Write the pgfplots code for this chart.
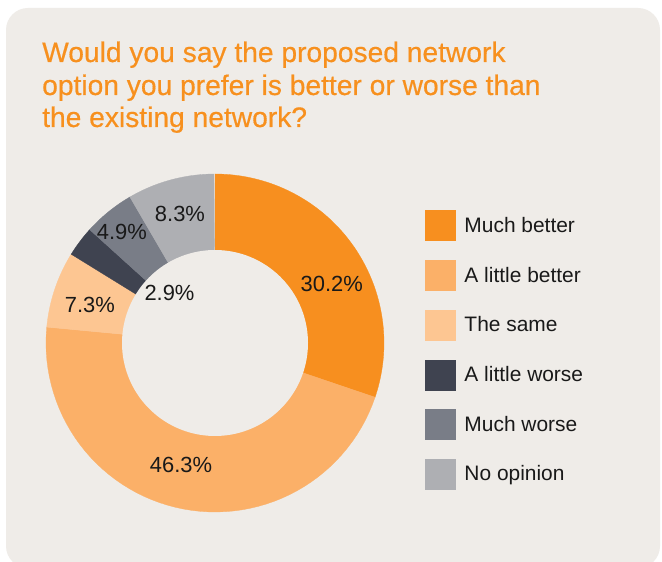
\documentclass[border=0pt]{standalone}
\usepackage{fontspec}
\setmainfont{Liberation Sans}
\newfontfamily\titlefont{Liberation Sans}[UprightFeatures={FakeBold=0.5}]
\usepackage{pgfplots}
\usepackage{pgfplotstable}
\pgfplotsset{compat=1.18}

\definecolor{panel}{HTML}{EFECE8}
\definecolor{titleorange}{HTML}{F7901E}
\definecolor{c0}{HTML}{F78F1F}
\definecolor{c1}{HTML}{FBB068}
\definecolor{c2}{HTML}{FDC692}
\definecolor{c3}{HTML}{3F4350}
\definecolor{c4}{HTML}{797D87}
\definecolor{c5}{HTML}{AEAFB3}

% share in percent, label angle (deg) and label radius (bp)
\pgfplotstableread{
value lang lrad
30.2 27 131
46.3 254.4 126.6
7.3 162.9 131
2.9 132 68
4.9 130 144.8
8.3 105.2 133.7
}\slices

\tikzset{lab/.style={font=\fontsize{22}{26}\selectfont, text=black!90, anchor=center, inner sep=0pt}}

\begin{document}
\begin{tikzpicture}[x=1bp,y=1bp]
\useasboundingbox (0,0) rectangle (662,562);
\fill[white] (0,0) rectangle (662,562);
\begin{scope}
\clip (0,0) rectangle (662,562);
\fill[panel, rounded corners=22bp] (6,-6) rectangle (660,554);
\end{scope}

\begin{scope}[every node/.style={anchor=base west, inner sep=0pt, text=titleorange,
  font=\titlefont\fontsize{28.3}{33}\selectfont}]
\node at (42,500) {Would you say the proposed network};
\node at (42,467) {option you prefer is better or worse than};
\node at (42,435) {the existing network?};
\end{scope}

\begin{axis}[
  at={(215,219)}, anchor=origin,
  x=1bp, y=1bp,
  xmin=-175, xmax=175, ymin=-175, ymax=175,
  hide axis, clip=false,
  legend entries={Much better, A little better, The same, A little worse, Much worse, No opinion},
  legend image code/.code={\fill[#1] (0bp,-15bp) rectangle (30bp,15bp);},
  legend style={at={(1.0914,0.885)}, anchor=north west, draw=none, fill=none,
    font=\fontsize{21}{24}\selectfont, text=black!90,
    nodes={inner sep=0pt}, column sep=9bp, row sep=19.4bp},
  legend cell align=left,
]
\def\acc{90}
\pgfplotsforeachungrouped \i in {0,...,5}{%
  \pgfplotstablegetelem{\i}{value}\of\slices
  \pgfmathsetmacro\e{\acc-3.6*\pgfplotsretval}%
  \edef\cmd{\noexpand\addplot[fill=c\i, draw=c\i, line width=0.3bp, domain=\e:\acc, samples=60]
    ({169*cos(x)},{169*sin(x)}) -- (axis cs:0,0) -- cycle;}%
  \cmd
  \let\acc\e
}
\addplot[fill=panel, draw=none, domain=0:360, samples=150, forget plot]
  ({93*cos(x)},{93*sin(x)}) -- cycle;
\pgfplotsforeachungrouped \i in {0,...,5}{%
  \pgfplotstablegetelem{\i}{value}\of\slices \let\v\pgfplotsretval
  \pgfplotstablegetelem{\i}{lang}\of\slices \let\la\pgfplotsretval
  \pgfplotstablegetelem{\i}{lrad}\of\slices \let\lr\pgfplotsretval
  \pgfmathsetmacro\lx{\lr*cos(\la)}%
  \pgfmathsetmacro\ly{\lr*sin(\la)}%
  \edef\cmd{\noexpand\node[lab] at (axis cs:\lx,\ly) {\v\noexpand\%};}%
  \cmd
}
\end{axis}
\end{tikzpicture}
\end{document}
